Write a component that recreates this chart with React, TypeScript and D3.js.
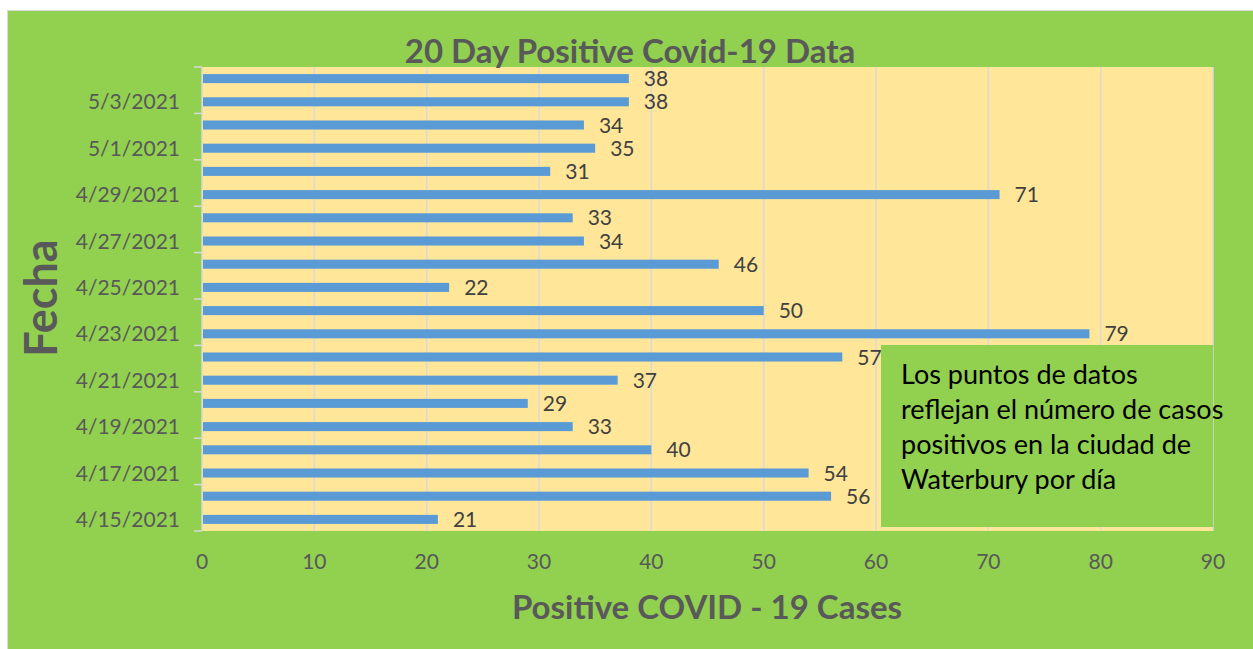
import React, { useEffect, useRef } from 'react';
import { select, scaleLinear, scaleBand, range } from 'd3';

// dates, bottom to top as in the sheet
const dates = [
  '4/15/2021', '4/16/2021', '4/17/2021', '4/18/2021', '4/19/2021',
  '4/20/2021', '4/21/2021', '4/22/2021', '4/23/2021', '4/24/2021',
  '4/25/2021', '4/26/2021', '4/27/2021', '4/28/2021', '4/29/2021',
  '4/30/2021', '5/1/2021', '5/2/2021', '5/3/2021', '5/4/2021',
];
const cases = [21, 56, 54, 40, 33, 29, 37, 57, 79, 50, 22, 46, 34, 33, 71, 31, 35, 34, 38, 38];
const xTicks = [0, 10, 20, 30, 40, 50, 60, 70, 80, 90];
const noteLines = [
  'Los puntos de datos',
  'reflejan el número de casos',
  'positivos en la ciudad de',
  'Waterbury por día',
];

const W = 1253;
const H = 649;
const FONT = 'Lato, "Open Sans", sans-serif';

export default function App() {
  const ref = useRef<SVGSVGElement>(null);

  useEffect(() => {
    const svg = select(ref.current);
    svg.selectAll('*').remove();

    const plot = { left: 202, right: 1213, top: 67, bottom: 531 };

    // chart area + border
    svg.append('rect')
      .attr('x', 7.5).attr('y', 10.5)
      .attr('width', W).attr('height', H)
      .attr('fill', '#92D050')
      .attr('stroke', '#D9D9D9');

    const x = scaleLinear().domain([0, 90]).range([plot.left, plot.right]);
    // first date at the bottom
    const y = scaleBand<string>()
      .domain(dates.slice().reverse())
      .range([plot.top, plot.bottom])
      .paddingInner(0.61)
      .paddingOuter(0.305);
    const step = y.step();

    svg.append('rect')
      .attr('x', plot.left).attr('y', plot.top)
      .attr('width', plot.right - plot.left).attr('height', plot.bottom - plot.top)
      .attr('fill', '#FFE699');

    // vertical gridlines
    svg.append('g').selectAll('line')
      .data(xTicks)
      .enter().append('line')
      .attr('x1', d => x(d)).attr('x2', d => x(d))
      .attr('y1', plot.top).attr('y2', plot.bottom)
      .attr('stroke', '#D9D9D9').attr('stroke-width', 1.5);

    // category ticks every 2 days
    const bandTop = (i: number) => plot.bottom - i * step;
    svg.append('g').selectAll('line')
      .data(range(0, dates.length + 1, 2))
      .enter().append('line')
      .attr('x1', plot.left - 8).attr('x2', plot.left)
      .attr('y1', d => bandTop(d)).attr('y2', d => bandTop(d))
      .attr('stroke', '#D9D9D9').attr('stroke-width', 1.5);

    // bars
    svg.append('g').selectAll('rect')
      .data(dates)
      .enter().append('rect')
      .attr('x', plot.left + 1)
      .attr('y', d => y(d)!)
      .attr('width', (d, i) => x(cases[i]) - plot.left - 1)
      .attr('height', y.bandwidth())
      .attr('fill', '#5B9BD5');

    // data labels
    svg.append('g').selectAll('text')
      .data(dates)
      .enter().append('text')
      .attr('x', (d, i) => x(cases[i]) + 15)
      .attr('y', d => y(d)! + y.bandwidth() / 2)
      .attr('dy', '0.36em')
      .attr('font-family', FONT).attr('font-size', 21)
      .attr('fill', '#404040')
      .text((d, i) => cases[i]);

    // y labels, every other date
    svg.append('g').selectAll('text')
      .data(dates.filter((d, i) => i % 2 === 0))
      .enter().append('text')
      .attr('x', 180)
      .attr('y', d => y(d)! + y.bandwidth() / 2)
      .attr('dy', '0.36em')
      .attr('text-anchor', 'end')
      .attr('font-family', FONT).attr('font-size', 21)
      .attr('fill', '#595959')
      .text(d => d);

    // x labels
    svg.append('g').selectAll('text')
      .data(xTicks)
      .enter().append('text')
      .attr('x', d => x(d))
      .attr('y', 569)
      .attr('text-anchor', 'middle')
      .attr('font-family', FONT).attr('font-size', 21)
      .attr('fill', '#595959')
      .text(d => d);

    // titles
    svg.append('text')
      .attr('x', 630).attr('y', 63)
      .attr('text-anchor', 'middle')
      .attr('font-family', FONT).attr('font-size', 33).attr('font-weight', 700)
      .attr('fill', '#595959')
      .text('20 Day Positive Covid-19 Data');

    svg.append('text')
      .attr('x', 707).attr('y', 619)
      .attr('text-anchor', 'middle')
      .attr('font-family', FONT).attr('font-size', 33).attr('font-weight', 700)
      .attr('fill', '#595959')
      .text('Positive COVID - 19 Cases');

    svg.append('text')
      .attr('transform', 'translate(57,298) rotate(-90)')
      .attr('text-anchor', 'middle')
      .attr('font-family', FONT).attr('font-size', 45).attr('font-weight', 700)
      .attr('fill', '#595959')
      .text('Fecha');

    // note box
    svg.append('rect')
      .attr('x', 881).attr('y', 345)
      .attr('width', 332).attr('height', 182)
      .attr('fill', '#92D050');

    svg.append('g').selectAll('text')
      .data(noteLines)
      .enter().append('text')
      .attr('x', 901)
      .attr('y', (d, i) => 384 + i * 35)
      .attr('font-family', FONT).attr('font-size', 27)
      .attr('fill', '#000000')
      .text(d => d);
  }, []);

  return (
    <svg ref={ref} width={W} height={H}
      style={{ position: 'absolute', left: 0, top: 0, display: 'block' }} />
  );
}
